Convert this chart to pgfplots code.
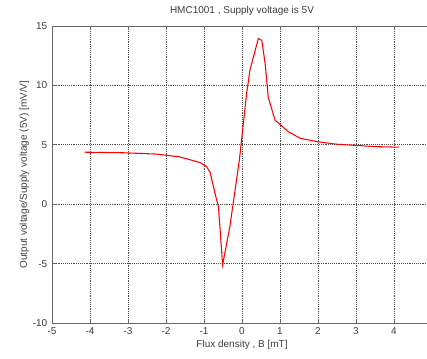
\documentclass[border=0pt]{standalone}
\usepackage{pgfplots}
\pgfplotsset{compat=1.18}
\usepackage{fontspec}
\setmainfont{Liberation Sans}
\definecolor{txt}{RGB}{60,60,60}
\begin{document}
\begin{tikzpicture}
\begin{axis}[
  name=ax,
  scale only axis,
  width=285pt, height=222.75pt,
  xmin=-5, xmax=5, ymin=-10, ymax=15,
  xtick={-5,-4,...,4}, ytick={-10,-5,...,15},
  grid=major,
  major grid style={densely dotted, black!70, line width=0.5pt},
  axis line style={gray!80!black, line width=0.6pt},
  tick style={gray!80!black, line width=0.5pt},
  tick align=inside, major tick length=3pt,
  ticklabel style={font=\fontsize{7.5}{9}\selectfont, text=txt},
  /pgf/number format/assume math mode=true,
  title={HMC1001 , Supply voltage is 5V},
  title style={font=\fontsize{7.5}{9}\selectfont, text=txt, yshift=-2pt},
  xlabel={Flux density , B [mT]},
  ylabel={Output voltage/Supply voltage (5V) [mV/V]},
  label style={font=\fontsize{7.5}{9}\selectfont, text=txt},
  xlabel style={yshift=3pt},
  ylabel style={yshift=-4pt},
]
\addplot[red, line width=0.8pt] coordinates {
(-4.15,4.38) (-3.1,4.33) (-2.25,4.22) (-1.63,3.98) (-1.1,3.5) (-0.93,3.15)
(-0.84,2.7) (-0.71,0.9) (-0.62,-0.2) (-0.51,-5.1) (-0.32,-1.9) (-0.07,3.7)
(0.12,9.3) (0.21,11.3) (0.43,13.95) (0.52,13.8) (0.61,11.8) (0.69,9.0)
(0.87,7.07) (1.22,6.1) (1.53,5.55) (2.0,5.25) (2.5,5.05) (3.0,4.95)
(3.5,4.85) (4.13,4.8)
};
\coordinate (bl) at (axis cs:-6.368,-12.95);
\coordinate (tr) at (axis cs:4.868,17.19);
\end{axis}
\pgfresetboundingbox
\useasboundingbox (bl) rectangle (tr);
\end{tikzpicture}
\end{document}
